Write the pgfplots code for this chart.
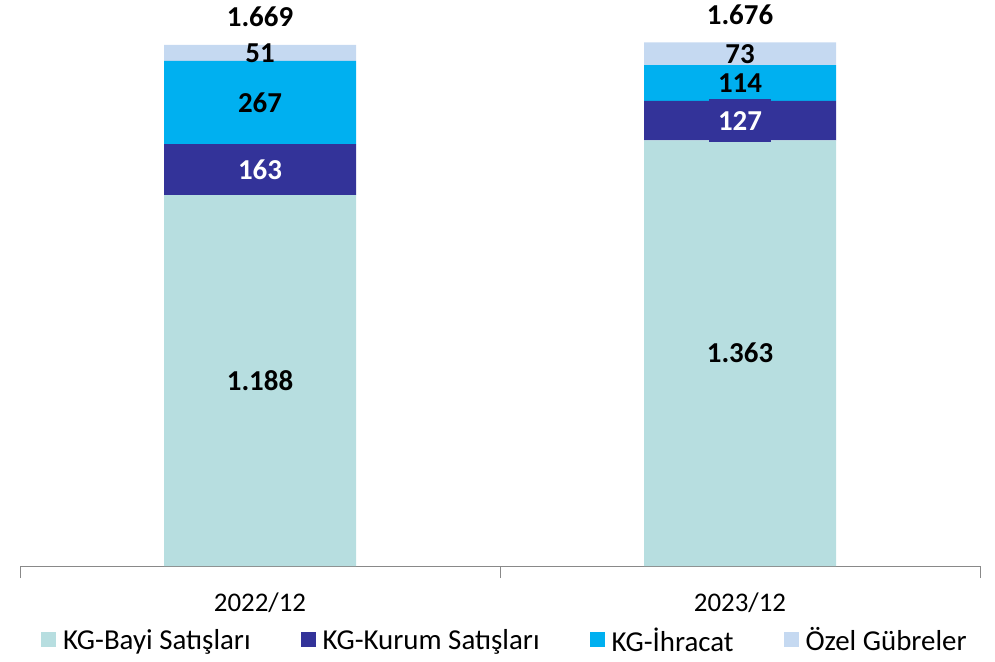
\documentclass[border=0pt]{standalone}
\usepackage{pgfplots}
\pgfplotsset{compat=1.18}
\usepackage{pgfplotstable}
\usepackage{fontspec}
\setmainfont{Carlito}
\definecolor{cBayi}{HTML}{B7DEE0}
\definecolor{cKurum}{HTML}{333399}
\definecolor{cIhr}{HTML}{00B0F0}
\definecolor{cOzel}{HTML}{C5D9F1}
\definecolor{axisgray}{HTML}{898989}

\pgfplotstableread{
x bayi kurum ihr ozel
0 1188 163 267 51
1 1363 127 114 73
}\datatable

\pgfplotstableread{
x y label
0 594 1.188
1 681.5 1.363
}\labBayi
\pgfplotstableread{
x y label
0 1269.5 163
1 1426.5 127
}\labKurum
\pgfplotstableread{
x y label
0 1484.5 267
1 1547 114
}\labIhr
\pgfplotstableread{
x y label
0 1643.5 51
1 1640.5 73
}\labOzel
\pgfplotstableread{
x y label
0 1669 1.669
1 1676 1.676
}\labTot

\newcommand{\lblfont}{\fontsize{29}{34}\selectfont\bfseries}

\begin{document}
\begin{tikzpicture}
\useasboundingbox (-20bp,-96bp) rectangle (975bp,566bp);
\begin{axis}[
  at={(0,0)}, anchor=south west,
  scale only axis, width=960bp, height=566bp,
  xmin=-0.5, xmax=1.5, ymin=0, ymax=1813,
  ybar stacked, bar width=0.4,
  axis y line=none, axis x line*=bottom,
  x axis line style={draw=axisgray, line width=1bp, -},
  xtick={-0.5,0.5,1.5}, xticklabels={},
  major tick length=12bp, tick align=outside,
  tick style={draw=axisgray, line width=1bp},
  extra x ticks={0,1}, extra x tick labels={2022/12,2023/12},
  extra x tick style={major tick length=0pt, tick style={draw=none},
    tick label style={anchor=center, yshift=-37bp, font=\fontsize{27}{32}\selectfont}},
  legend columns=4,
  legend style={at={(0.504,-0.1307)}, anchor=center, draw=none, fill=none,
    font=\fontsize{29}{34}\selectfont,
    nodes={inner xsep=0pt},
    /tikz/every odd column/.append style={column sep=7bp},
    /tikz/every even column/.append style={column sep=50bp}},
  legend image code/.code={\draw[#1,draw=none] (0bp,-7.5bp) rectangle (15bp,7.5bp);},
]
\addplot[fill=cBayi, draw=none] table[x=x, y=bayi] {\datatable};
\addlegendentry{KG-Bayi Satışları}
\addplot[fill=cKurum, draw=none] table[x=x, y=kurum] {\datatable};
\addlegendentry{KG-Kurum Satışları}
\addplot[fill=cIhr, draw=none] table[x=x, y=ihr] {\datatable};
\addlegendentry{KG-İhracat}
\addplot[fill=cOzel, draw=none] table[x=x, y=ozel] {\datatable};
\addlegendentry{Özel Gübreler}
\end{axis}
\begin{axis}[
  at={(0,0)}, anchor=south west,
  scale only axis, width=960bp, height=566bp,
  xmin=-0.5, xmax=1.5, ymin=0, ymax=1813,
  hide axis, clip=false,
  point meta=explicit symbolic,
]
\addplot[draw=none, mark=none, nodes near coords,
  every node near coord/.style={anchor=center, font=\lblfont, text=black}]
  table[x=x, y=y, meta=label] {\labBayi};
\addplot[draw=none, mark=none, nodes near coords,
  every node near coord/.style={anchor=center, font=\lblfont, text=white,
    fill=cKurum, inner xsep=9bp, inner ysep=12bp}]
  table[x=x, y=y, meta=label] {\labKurum};
\addplot[draw=none, mark=none, nodes near coords,
  every node near coord/.style={anchor=center, font=\lblfont, text=black}]
  table[x=x, y=y, meta=label] {\labIhr};
\addplot[draw=none, mark=none, nodes near coords,
  every node near coord/.style={anchor=center, font=\lblfont, text=black}]
  table[x=x, y=y, meta=label] {\labOzel};
\addplot[draw=none, mark=none, nodes near coords,
  every node near coord/.style={anchor=center, font=\lblfont, text=black, yshift=28bp}]
  table[x=x, y=y, meta=label] {\labTot};
\end{axis}
\end{tikzpicture}
\end{document}
